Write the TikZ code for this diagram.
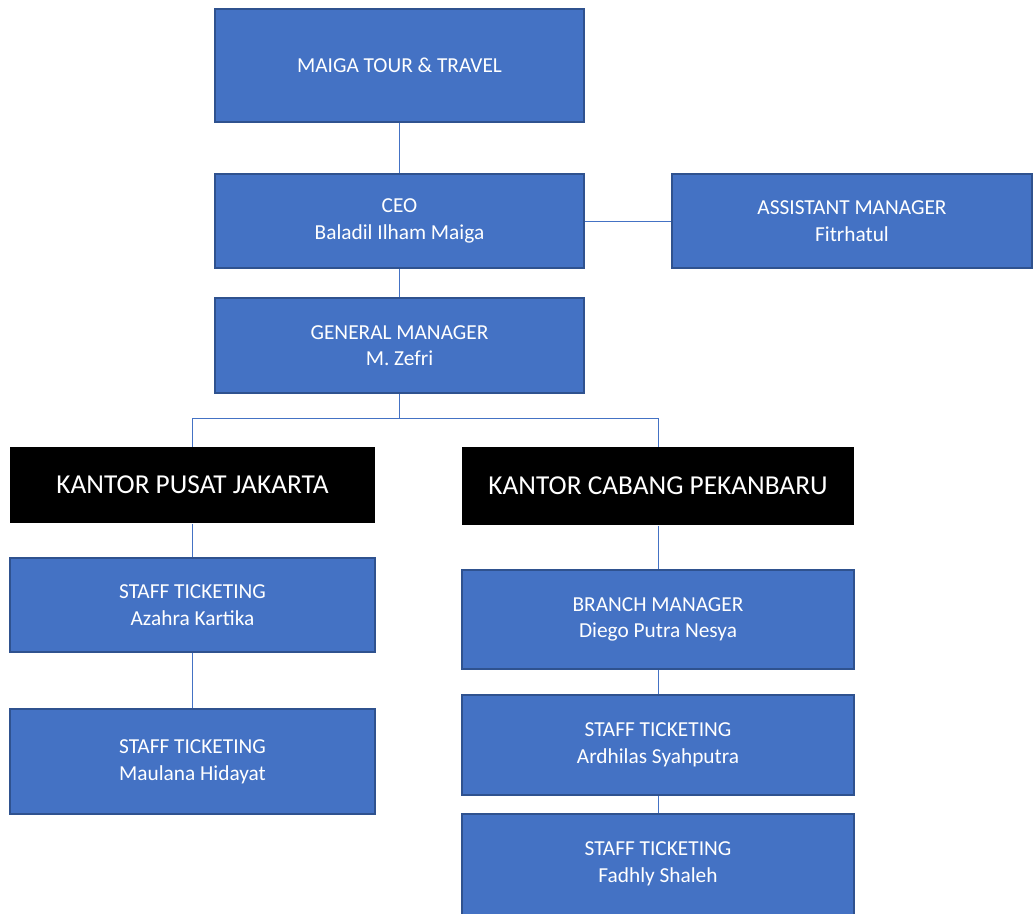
\documentclass[tikz,border=0pt]{standalone}
\usepackage{fontspec}
\setmainfont{Carlito}
\usetikzlibrary{arrows}

\definecolor{boxblue}{HTML}{4472C4}
\definecolor{boxedge}{HTML}{2F528F}

\begin{document}
\begin{tikzpicture}[
            x = 0.75pt, y = -0.75pt, % one unit is one pixel
            line width = 0.75pt % line style
        ]

        \tikzstyle{every node}=[
            inner sep = 0pt,
            align = center
        ]
        \tikzstyle{unit}=[
            draw = boxedge,
            line width = 1.5pt,
            fill = boxblue,
            text = white,
            font = \fontsize{16}{20}\selectfont
        ]
        \tikzstyle{office}=[
            fill = black,
            text = white,
            font = \fontsize{20.5}{24}\selectfont
        ]
        \tikzstyle{link}=[draw = boxblue]

        \useasboundingbox (0,0) rectangle (1033,914);

        \node[unit, minimum width = 369*0.75pt, minimum height = 113*0.75pt] (maiga) at (399.5,65.5) {MAIGA TOUR \& TRAVEL};
        \node[unit, minimum width = 369*0.75pt, minimum height = 94*0.75pt] (ceo) at (399.5,221) {CEO\\Baladil Ilham Maiga};
        \node[unit, minimum width = 360*0.75pt, minimum height = 94*0.75pt] (asst) at (852,221) {ASSISTANT MANAGER\\Fitrhatul};
        \node[unit, minimum width = 369*0.75pt, minimum height = 95*0.75pt] (gm) at (399.5,345.5) {GENERAL MANAGER\\M. Zefri};

        \node[office, minimum width = 365*0.75pt, minimum height = 76*0.75pt] (jkt) at (192.5,485) {KANTOR PUSAT JAKARTA};
        \node[office, minimum width = 392*0.75pt, minimum height = 78*0.75pt] (pku) at (658,486) {KANTOR CABANG PEKANBARU};

        \node[unit, minimum width = 365*0.75pt, minimum height = 94*0.75pt] (azahra) at (192.5,605) {STAFF TICKETING\\Azahra Kartika};
        \node[unit, minimum width = 365*0.75pt, minimum height = 105*0.75pt] (maulana) at (192.5,761.5) {STAFF TICKETING\\Maulana Hidayat};

        \node[unit, minimum width = 392*0.75pt, minimum height = 99*0.75pt] (bm) at (658,619.5) {BRANCH MANAGER\\Diego Putra Nesya};
        \node[unit, minimum width = 392*0.75pt, minimum height = 100*0.75pt] (ardhilas) at (658,745) {STAFF TICKETING\\Ardhilas Syahputra};
        \node[unit, minimum width = 392*0.75pt, minimum height = 101*0.75pt] (fadhly) at (658,864) {STAFF TICKETING\\Fadhly Shaleh};

        \coordinate (bus) at (399.5,418);

        \path[link] (maiga) edge (ceo);
        \path[link] (ceo) edge (gm);
        \path[link] (ceo) edge (asst);
        \path[link] (gm) edge (bus);
        \draw[link] (bus) -| (jkt);
        \draw[link] (bus) -| (pku);
        \path[link] (jkt) edge (azahra);
        \path[link] (azahra) edge (maulana);
        \path[link] (pku) edge (bm);
        \path[link] (bm) edge (ardhilas);
        \path[link] (ardhilas) edge (fadhly);

    \end{tikzpicture}
\end{document}
